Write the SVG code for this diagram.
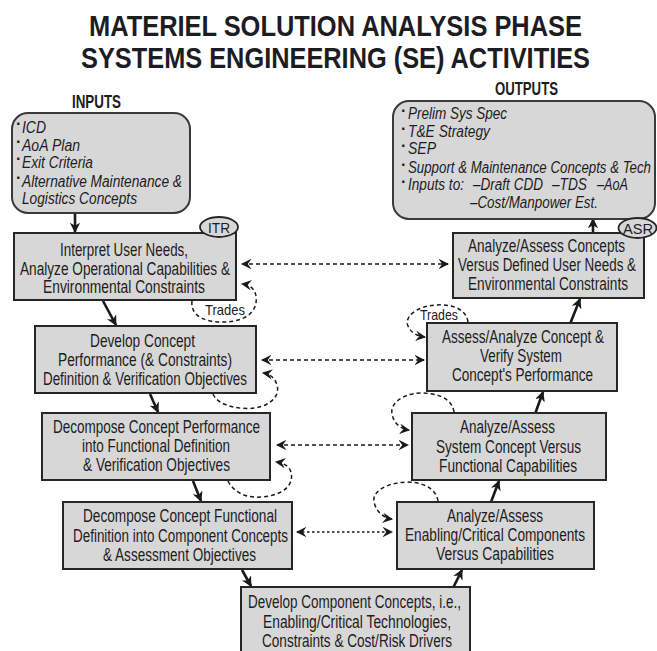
<svg xmlns="http://www.w3.org/2000/svg" width="657" height="651" viewBox="0 0 657 651">
  <style>
    text { font-family: "Liberation Sans Narrow", "Liberation Sans", Arial, sans-serif; fill: #1c1c22; }
    .title { font-size: 30px; font-weight: bold; text-anchor: middle; }
    .head { font-size: 18px; font-weight: bold; text-anchor: middle; }
    .lbl { font-size: 17.5px; text-anchor: middle; }
    .list { font-size: 16px; font-style: italic; }
    .bul { font-size: 16px; font-weight: bold; }
    .tag { font-size: 15px; text-anchor: middle; }
    .trade { font-size: 15px; text-anchor: middle; }
    .box { fill: #d7d7d7; stroke: #262626; stroke-width: 2; }
    .rbox { fill: #d7d7d7; stroke: #3a3a3a; stroke-width: 2; }
    .oval { fill: #d7d7d7; stroke: #262626; stroke-width: 1.8; }
    .flow { fill: none; stroke: #1a1a1a; stroke-width: 2.6; marker-end: url(#headSolid); }
    .link { fill: none; stroke: #1a1a1a; stroke-width: 1.5; stroke-dasharray: 4 3; marker-start: url(#headDash); marker-end: url(#headDash); }
    .dots { fill: none; stroke: #1a1a1a; stroke-width: 1.5; stroke-dasharray: 2.5 2.5; marker-start: url(#headDash); marker-end: url(#headDash); }
    .loop { fill: none; stroke: #1a1a1a; stroke-width: 1.5; stroke-dasharray: 4 3; marker-end: url(#headDash); }
  </style>
  <defs>
    <marker id="headSolid" viewBox="0 0 10 10" refX="9" refY="5" markerWidth="4" markerHeight="4" orient="auto" markerUnits="strokeWidth">
      <path d="M0,0 L10,5 L0,10 L3,5 z" fill="#1a1a1a"/>
    </marker>
    <marker id="headDash" viewBox="0 0 10 10" refX="9" refY="5" markerWidth="7" markerHeight="7" orient="auto-start-reverse" markerUnits="strokeWidth">
      <path d="M0,0 L10,5 L0,10 L3.5,5 z" fill="#1a1a1a"/>
    </marker>
  </defs>

  <rect width="657" height="651" fill="#ffffff"/>

  <!-- title -->
  <g id="title">
    <text class="title" x="335.5" y="36" textLength="493" lengthAdjust="spacingAndGlyphs">MATERIEL SOLUTION ANALYSIS PHASE</text>
    <text class="title" x="335.5" y="68" textLength="509" lengthAdjust="spacingAndGlyphs">SYSTEMS ENGINEERING (SE) ACTIVITIES</text>
  </g>

  <!-- connectors -->
  <g id="connectors">
    <!-- main flow, down the left side and up the right side -->
    <line class="flow" x1="75" y1="214" x2="75" y2="232"/>
    <line class="flow" x1="103" y1="301" x2="116" y2="325"/>
    <line class="flow" x1="150" y1="394" x2="158" y2="412"/>
    <line class="flow" x1="193" y1="481" x2="201" y2="501"/>
    <line class="flow" x1="242" y1="570" x2="251" y2="586"/>
    <line class="flow" x1="453" y1="588" x2="462" y2="570"/>
    <line class="flow" x1="491" y1="502" x2="499" y2="481"/>
    <line class="flow" x1="535" y1="414" x2="543" y2="392"/>
    <line class="flow" x1="570" y1="324" x2="580" y2="299"/>
    <line class="flow" x1="593" y1="234" x2="593" y2="219"/>

    <!-- verification links between the two sides -->
    <line class="link" x1="242" y1="264" x2="448" y2="264"/>
    <line class="link" x1="262" y1="360" x2="424" y2="360"/>
    <line class="link" x1="277" y1="445" x2="408" y2="445"/>
    <line class="dots" x1="297" y1="532" x2="392" y2="532"/>

    <!-- iteration loops -->
    <path class="loop" d="M192,301 C190,318 210,323 225,322 C248,321 258,310 256,296 C255,289 250,285 242,284"/>
    <path class="loop" d="M213,394 C218,406 240,410 255,408 C272,405 280,395 277,385 C275,378 270,374 263,373"/>
    <path class="loop" d="M228,481 C235,495 250,498 262,497 C285,495 294,484 291,472 C289,466 284,463 276,462"/>
    <path class="loop" d="M468,322 C466,308 450,304 437,305 C415,306 404,318 408,326 C411,333 417,336 425,337"/>
    <path class="loop" d="M454,412 C452,398 437,393 420,393 C400,394 390,405 392,414 C394,424 401,429 409,430"/>
    <path class="loop" d="M438,501 C436,488 422,482 407,482 C385,483 372,492 374,502 C376,512 384,518 392,519"/>
    <text class="trade" x="225" y="315" textLength="40" lengthAdjust="spacingAndGlyphs">Trades</text>
    <text class="trade" x="439" y="320" textLength="38" lengthAdjust="spacingAndGlyphs">Trades</text>
  </g>

  <!-- inputs -->
  <g id="inputs">
    <text class="head" x="96.5" y="108" textLength="49" lengthAdjust="spacingAndGlyphs">INPUTS</text>
    <rect class="rbox" x="12" y="113" width="178" height="100" rx="16"/>
    <text class="bul" x="16" y="129">·</text>
    <text class="list" x="22" y="133" textLength="24" lengthAdjust="spacingAndGlyphs">ICD</text>
    <text class="bul" x="16" y="147">·</text>
    <text class="list" x="22" y="151" textLength="58" lengthAdjust="spacingAndGlyphs">AoA Plan</text>
    <text class="bul" x="16" y="164">·</text>
    <text class="list" x="22" y="168" textLength="71" lengthAdjust="spacingAndGlyphs">Exit Criteria</text>
    <text class="bul" x="16" y="183">·</text>
    <text class="list" x="22" y="187" textLength="160" lengthAdjust="spacingAndGlyphs">Alternative Maintenance &amp;</text>
    <text class="list" x="22" y="204" textLength="115" lengthAdjust="spacingAndGlyphs">Logistics Concepts</text>
  </g>

  <!-- outputs -->
  <g id="outputs">
    <text class="head" x="526.5" y="95" textLength="63" lengthAdjust="spacingAndGlyphs">OUTPUTS</text>
    <rect class="rbox" x="393" y="101" width="262" height="118" rx="16"/>
    <text class="bul" x="401" y="116">·</text>
    <text class="list" x="408" y="119" textLength="99" lengthAdjust="spacingAndGlyphs">Prelim Sys Spec</text>
    <text class="bul" x="401" y="134">·</text>
    <text class="list" x="408" y="137" textLength="82" lengthAdjust="spacingAndGlyphs">T&amp;E Strategy</text>
    <text class="bul" x="401" y="151">·</text>
    <text class="list" x="408" y="154" textLength="28" lengthAdjust="spacingAndGlyphs">SEP</text>
    <text class="bul" x="401" y="170">·</text>
    <text class="list" x="408" y="173" textLength="243" lengthAdjust="spacingAndGlyphs">Support &amp; Maintenance Concepts &amp; Tech</text>
    <text class="bul" x="401" y="187">·</text>
    <text class="list" x="408" y="190" textLength="56" lengthAdjust="spacingAndGlyphs">Inputs to:</text>
    <text class="list" x="473" y="190" textLength="70" lengthAdjust="spacingAndGlyphs">–Draft CDD</text>
    <text class="list" x="552" y="190" textLength="35" lengthAdjust="spacingAndGlyphs">–TDS</text>
    <text class="list" x="597" y="190" textLength="31" lengthAdjust="spacingAndGlyphs">–AoA</text>
    <text class="list" x="470" y="208" textLength="128" lengthAdjust="spacingAndGlyphs">–Cost/Manpower Est.</text>
  </g>

  <!-- left side: definition -->
  <g id="interpret-needs">
    <rect class="box" x="14" y="233" width="222" height="67"/>
    <text class="lbl" x="124" y="256" textLength="128" lengthAdjust="spacingAndGlyphs">Interpret User Needs,</text>
    <text class="lbl" x="125" y="275" textLength="210" lengthAdjust="spacingAndGlyphs">Analyze Operational Capabilities &amp;</text>
    <text class="lbl" x="124" y="293" textLength="162" lengthAdjust="spacingAndGlyphs">Environmental  Constraints</text>
  </g>
  <g id="itr">
    <ellipse class="oval" cx="219" cy="227" rx="19" ry="10"/>
    <text class="tag" x="219" y="233" textLength="22" lengthAdjust="spacingAndGlyphs">ITR</text>
  </g>

  <g id="develop-concept">
    <rect class="box" x="35" y="326" width="221" height="67"/>
    <text class="lbl" x="142.5" y="347" textLength="105" lengthAdjust="spacingAndGlyphs">Develop Concept</text>
    <text class="lbl" x="145" y="366" textLength="174" lengthAdjust="spacingAndGlyphs">Performance (&amp; Constraints)</text>
    <text class="lbl" x="145" y="385" textLength="204" lengthAdjust="spacingAndGlyphs">Definition &amp; Verification Objectives</text>
  </g>

  <g id="decompose-performance">
    <rect class="box" x="42" y="413" width="228" height="67"/>
    <text class="lbl" x="156.5" y="433" textLength="207" lengthAdjust="spacingAndGlyphs">Decompose Concept Performance</text>
    <text class="lbl" x="156" y="452" textLength="148" lengthAdjust="spacingAndGlyphs">into Functional Definition</text>
    <text class="lbl" x="156.5" y="471" textLength="147" lengthAdjust="spacingAndGlyphs">&amp; Verification Objectives</text>
  </g>

  <g id="decompose-functional">
    <rect class="box" x="63" y="502" width="229" height="67"/>
    <text class="lbl" x="180" y="522" textLength="194" lengthAdjust="spacingAndGlyphs">Decompose Concept Functional</text>
    <text class="lbl" x="180.5" y="542" textLength="215" lengthAdjust="spacingAndGlyphs">Definition into Component Concepts</text>
    <text class="lbl" x="179.5" y="561" textLength="153" lengthAdjust="spacingAndGlyphs">&amp; Assessment Objectives</text>
  </g>

  <!-- bottom: component concepts -->
  <g id="component-concepts">
    <rect class="box" x="241" y="587" width="229" height="72"/>
    <text class="lbl" x="354.5" y="608" textLength="213" lengthAdjust="spacingAndGlyphs">Develop Component Concepts, i.e.,</text>
    <text class="lbl" x="357" y="628" textLength="188" lengthAdjust="spacingAndGlyphs">Enabling/Critical Technologies,</text>
    <text class="lbl" x="357" y="647" textLength="190" lengthAdjust="spacingAndGlyphs">Constraints &amp; Cost/Risk Drivers</text>
  </g>

  <!-- right side: assessment -->
  <g id="assess-components">
    <rect class="box" x="397" y="502" width="197" height="67"/>
    <text class="lbl" x="495" y="522" textLength="96" lengthAdjust="spacingAndGlyphs">Analyze/Assess</text>
    <text class="lbl" x="495" y="541" textLength="180" lengthAdjust="spacingAndGlyphs">Enabling/Critical Components</text>
    <text class="lbl" x="495" y="560" textLength="118" lengthAdjust="spacingAndGlyphs">Versus Capabilities</text>
  </g>

  <g id="assess-system">
    <rect class="box" x="412" y="413" width="194" height="67"/>
    <text class="lbl" x="507.5" y="433" textLength="95" lengthAdjust="spacingAndGlyphs">Analyze/Assess</text>
    <text class="lbl" x="508.5" y="453" textLength="145" lengthAdjust="spacingAndGlyphs">System Concept Versus</text>
    <text class="lbl" x="508" y="472" textLength="138" lengthAdjust="spacingAndGlyphs">Functional Capabilities</text>
  </g>

  <g id="verify-performance">
    <rect class="box" x="427" y="323" width="190" height="68"/>
    <text class="lbl" x="523" y="343" textLength="162" lengthAdjust="spacingAndGlyphs">Assess/Analyze Concept &amp;</text>
    <text class="lbl" x="521" y="362" textLength="82" lengthAdjust="spacingAndGlyphs">Verify System</text>
    <text class="lbl" x="522.5" y="381" textLength="141" lengthAdjust="spacingAndGlyphs">Concept's Performance</text>
  </g>

  <g id="assess-concepts">
    <rect class="box" x="453" y="233" width="191" height="65"/>
    <text class="lbl" x="546.5" y="252" textLength="157" lengthAdjust="spacingAndGlyphs">Analyze/Assess Concepts</text>
    <text class="lbl" x="547" y="271" textLength="178" lengthAdjust="spacingAndGlyphs">Versus Defined User Needs &amp;</text>
    <text class="lbl" x="548" y="290" textLength="160" lengthAdjust="spacingAndGlyphs">Environmental Constraints</text>
  </g>
  <g id="asr">
    <ellipse class="oval" cx="637.5" cy="228" rx="19" ry="10"/>
    <text class="tag" x="638" y="234" textLength="30" lengthAdjust="spacingAndGlyphs">ASR</text>
  </g>
</svg>
